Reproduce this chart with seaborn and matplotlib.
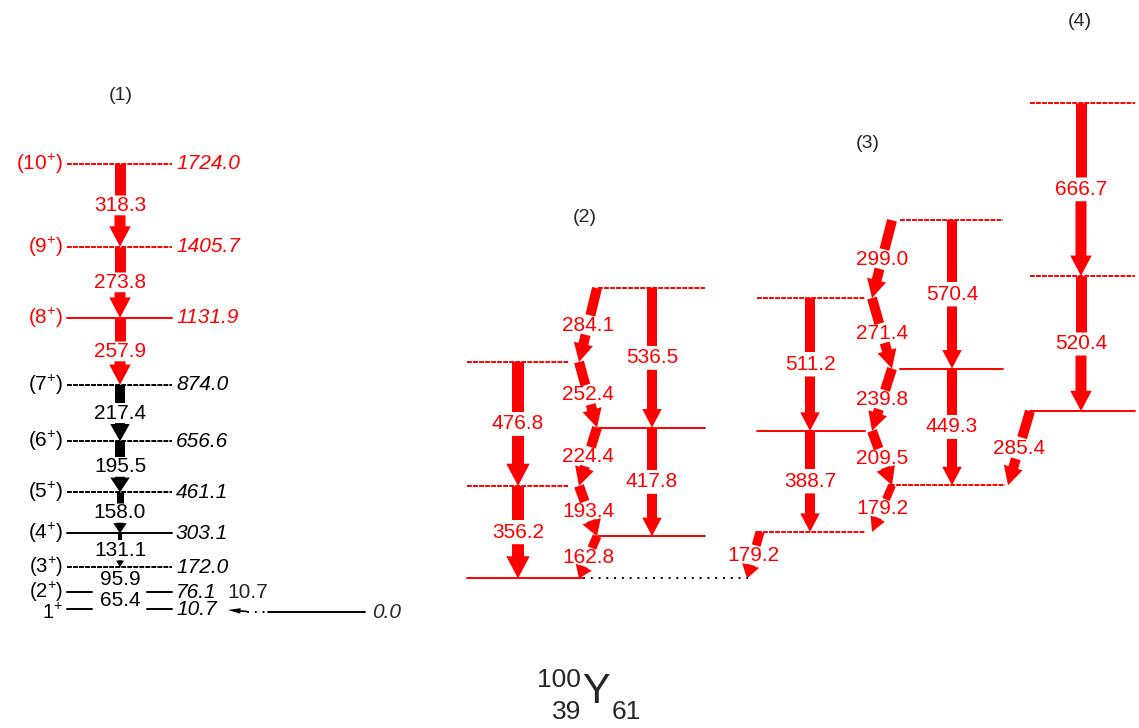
import numpy as np
import pandas as pd
import matplotlib.pyplot as plt
import seaborn as sns
from matplotlib.patches import FancyArrowPatch, ArrowStyle

# ---- data (keV) ----
# band (1): absolute level energies, spins, in-band gammas (level i+1 -> i)
b1_energy = [10.7, 76.1, 172.0, 303.1, 461.1, 656.6, 874.0, 1131.9, 1405.7, 1724.0]
b1_spin = ["1$^{+}$", "(2$^{+}$)", "(3$^{+}$)", "(4$^{+}$)", "(5$^{+}$)",
           "(6$^{+}$)", "(7$^{+}$)", "(8$^{+}$)", "(9$^{+}$)", "(10$^{+}$)"]
b1_gamma = [65.4, 95.9, 131.1, 158.0, 195.5, 217.4, 257.9, 273.8, 318.3]
b1_intensity = [0, 0, 4, 7, 10, 10, 11, 11, 11]
ground_energy = 0.0
ground_gamma = 10.7

# band (2): levels relative to its lowest level
b2_energy = [0.0, 162.8, 356.2, 580.6, 833.0, 1117.1]
b2_e2 = [356.2, 417.8, 476.8, 536.5]          # level i+2 -> i
b2_e2_int = [12, 10, 12, 10]
b2_m1 = [162.8, 193.4, 224.4, 252.4, 284.1]   # level i+1 -> i
b2_m1_int = [9, 10, 10, 10, 10]

# band (3)
b3_energy = [179.2, 358.4, 567.9, 807.7, 1079.1, 1378.1]
b3_e2 = [388.7, 449.3, 511.2, 570.4]
b3_e2_int = [10, 10, 10, 10]
b3_m1 = [179.2, 209.5, 239.8, 271.4, 299.0]
b3_m1_int = [8, 10, 10, 10, 10]
b3_link = 179.2        # band (3) level 0 -> band (2) level 0
b3_link_int = 9

# band (4)
b4_energy = [643.8, 1164.2, 1830.9]
b4_gamma = [520.4, 666.7]
b4_int = [11, 11]
b4_link = 285.4        # band (4) level 0 -> band (3) level 1
b4_link_int = 10

# ---- layout ----
W, H = 1139, 728
px_per_kev = 0.2599
ground_px = 612
band_offset = 129.0    # display offset of bands (2)-(4)

b1_cols = (67, 172)
b1_arrow_x = 120
b2_cols = [(467, 568), (598, 705)]
b2_arrow_x = [518, 652]
b2_zig_x = [579, 597]
b3_cols = [(757, 865), (900, 1003)]
b3_arrow_x = [810, 952]
b3_zig_x = [872, 892]
b4_cols = (1030, 1135)
b4_arrow_x = 1081

b1_dashed = [False, False, True, False, True, True, True, False, True, True]
b2_dashed = [False, False, True, False, True, True]
b3_dashed = [True, True, False, False, True, True]
b4_dashed = [False, True, True]

RED = "#ff0000"
sns.set_theme(style="white")
plt.rcParams["font.family"] = ["Liberation Sans", "DejaVu Sans"]
plt.rcParams["mathtext.fontset"] = "custom"
plt.rcParams["mathtext.rm"] = "Liberation Sans"
plt.rcParams["mathtext.it"] = "Liberation Sans:italic"
FS = 15

# ---- level segments table ----
rows = []
seg = 0


def add_seg(x0, x1, e, color, ls):
    global seg
    rows.append((x0, e, seg, color, ls))
    rows.append((x1, e, seg, color, ls))
    seg += 1


for i, e in enumerate(b1_energy):
    col = "red" if e > 1000 else "black"
    ls = "dashed" if b1_dashed[i] else "solid"
    if i < 2:
        add_seg(b1_cols[0], 92, e, col, ls)
        add_seg(147, b1_cols[1], e, col, ls)
    else:
        add_seg(b1_cols[0], b1_cols[1], e, col, ls)
add_seg(247, 268, ground_energy, "black", "dotted")
add_seg(268, 365, ground_energy, "black", "solid")

for i, e in enumerate(b2_energy):
    x0, x1 = b2_cols[i % 2]
    if i == 0:
        x1 = 583
    add_seg(x0, x1, e + band_offset, "red", "dashed" if b2_dashed[i] else "solid")
add_seg(583, 748, b2_energy[0] + band_offset, "black", "dotted")

for i, e in enumerate(b3_energy):
    x0, x1 = b3_cols[i % 2]
    if i == 1:
        x0, x1 = 890, 1005
    add_seg(x0, x1, e + band_offset, "red", "dashed" if b3_dashed[i] else "solid")

for i, e in enumerate(b4_energy):
    add_seg(b4_cols[0], b4_cols[1], e + band_offset, "red",
            "dashed" if b4_dashed[i] else "solid")

levels = pd.DataFrame(rows, columns=["x", "E", "seg", "color", "ls"])

fig = plt.figure(figsize=(W / 100, H / 100), dpi=100)
ax = fig.add_axes([0, 0, 1, 1])
sns.lineplot(data=levels, x="x", y="E", units="seg", estimator=None, sort=False,
             hue="color", style="ls", palette={"red": RED, "black": "black"},
             dashes={"solid": "", "dashed": (2.5, 0.6), "dotted": (1, 3)},
             linewidth=1.4, legend=False, ax=ax)
ax.set_xlim(0, W)
ax.set_ylim(-(H - ground_px) / px_per_kev, ground_px / px_per_kev)
ax.axis("off")

inv = ax.transData.inverted()


def gamma(x1, e1, x2, e2, label, w, color, gap=11):
    p1 = ax.transData.transform((x1, e1))
    p2 = ax.transData.transform((x2, e2))
    d = p2 - p1
    L = np.hypot(*d)
    u = d / L
    mid = (p1 + p2) / 2
    mx, my = inv.transform(mid)
    ax.text(mx, my, label, ha="center", va="center", color=color, fontsize=FS)
    if w <= 0 or L / 2 <= gap:
        return
    a = inv.transform(mid - u * gap)
    b = mid + u * gap
    ax.plot([x1, a[0]], [e1, a[1]], color=color, lw=w * 0.72, solid_capstyle="butt")
    seglen = np.hypot(*(p2 - b))
    hl = min(1.85 * w, seglen * 0.95)
    style = ArrowStyle.Simple(head_length=hl * 0.72, head_width=1.95 * w * 0.72,
                              tail_width=w * 0.72)
    ax.add_patch(FancyArrowPatch(inv.transform(b), (x2, e2), arrowstyle=style,
                                 mutation_scale=1, shrinkA=0, shrinkB=0,
                                 color=color, lw=0))


# band (1)
spin_shift = {0: -3, 1: 0.5}
for i, e in enumerate(b1_energy):
    col = RED if e > 1000 else "black"
    ax.annotate(b1_spin[i], xy=(b1_cols[0] - 4, e), xytext=(0, spin_shift.get(i, 0)),
                textcoords="offset points", ha="right", va="center", color=col,
                fontsize=14.5 if i < 3 else FS)
    ax.text(b1_cols[1] + 4, e, f"{e:.1f}", ha="left", va="center", color=col,
            fontsize=FS, style="italic")
for i, g in enumerate(b1_gamma):
    col = RED if b1_energy[i + 1] > 1000 else "black"
    gamma(b1_arrow_x, b1_energy[i + 1], b1_arrow_x, b1_energy[i], f"{g:.1f}",
          b1_intensity[i], col, gap=10)
ax.text(372, ground_energy, f"{ground_energy:.1f}", ha="left", va="center",
        fontsize=FS, style="italic")
ax.text(248, b1_energy[1], f"{ground_gamma:.1f}", ha="center", va="center", fontsize=FS)
ax.add_patch(FancyArrowPatch((247, ground_energy + 2), (228, ground_energy + 8),
                             arrowstyle=ArrowStyle.Simple(head_length=9, head_width=4,
                                                          tail_width=1.2),
                             mutation_scale=1, shrinkA=0, shrinkB=0, color="black", lw=0))

# band (2)
E2 = [e + band_offset for e in b2_energy]
for i, g in enumerate(b2_e2):
    x = b2_arrow_x[i % 2]
    gamma(x, E2[i + 2], x, E2[i], f"{g:.1f}", b2_e2_int[i], RED, gap=12)
for i, g in enumerate(b2_m1):
    gamma(b2_zig_x[(i + 1) % 2], E2[i + 1], b2_zig_x[i % 2], E2[i], f"{g:.1f}",
          b2_m1_int[i], RED, gap=10)

# band (3)
E3 = [e + band_offset for e in b3_energy]
for i, g in enumerate(b3_e2):
    x = b3_arrow_x[i % 2]
    gamma(x, E3[i + 2], x, E3[i], f"{g:.1f}", b3_e2_int[i], RED, gap=12)
for i, g in enumerate(b3_m1):
    gamma(b3_zig_x[(i + 1) % 2], E3[i + 1], b3_zig_x[i % 2], E3[i], f"{g:.1f}",
          b3_m1_int[i], RED, gap=10)
gamma(760, E3[0], 747, E2[0], f"{b3_link:.1f}", b3_link_int, RED, gap=10)

# band (4)
E4 = [e + band_offset for e in b4_energy]
for i, g in enumerate(b4_gamma):
    gamma(b4_arrow_x, E4[i + 1], b4_arrow_x, E4[i], f"{g:.1f}", b4_int[i], RED, gap=12)
gamma(1030, E4[0], 1008, E3[1], f"{b4_link:.1f}", b4_link_int, RED, gap=11)

# band numbers and nucleus label
for txt, (x, y) in zip(["(1)", "(2)", "(3)", "(4)"],
                       [(121, 95), (585, 218), (868, 143), (1080, 22)]):
    ax.annotate(txt, xy=(x, H - y), xycoords="figure pixels", ha="center",
                va="center", fontsize=14)
ax.annotate("100", xy=(581, H - 680), xycoords="figure pixels", ha="right",
            va="center", fontsize=19)
ax.annotate("Y", xy=(582, H - 692), xycoords="figure pixels", ha="left",
            va="center", fontsize=30)
ax.annotate("39", xy=(581, H - 712), xycoords="figure pixels", ha="right",
            va="center", fontsize=19)
ax.annotate("61", xy=(612, H - 712), xycoords="figure pixels", ha="left",
            va="center", fontsize=19)

fig.savefig("out.png", dpi=100, facecolor="white")
